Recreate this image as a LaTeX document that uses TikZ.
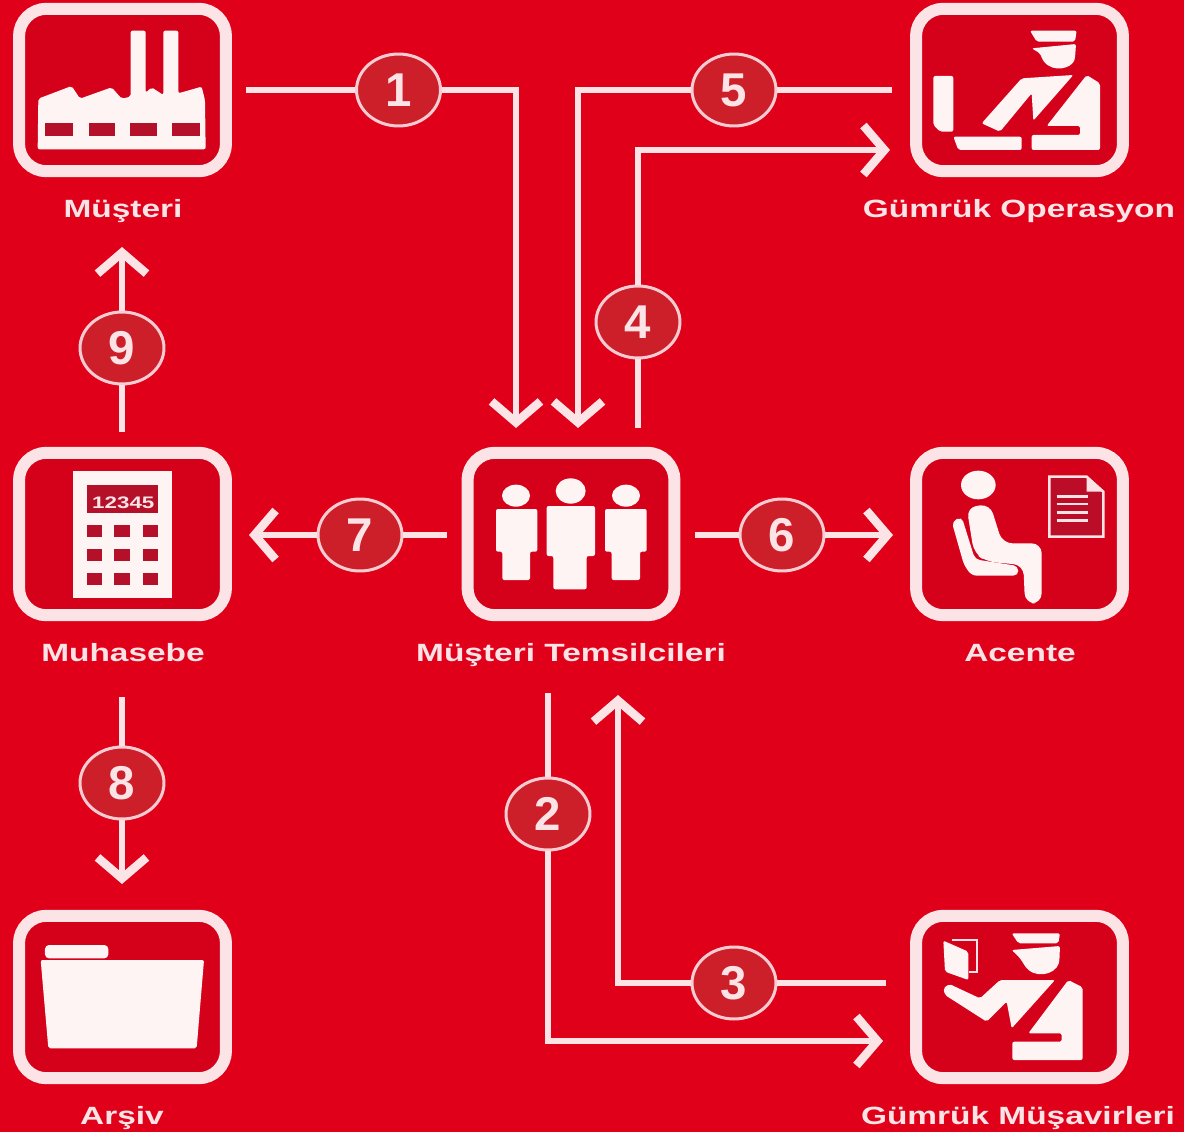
\documentclass[tikz,border=0pt]{standalone}
\usepackage{fontspec}
\usetikzlibrary{arrows.meta,shapes.geometric}
\newfontfamily\lblfont[FakeStretch=1.34]{Liberation Sans Bold}
\newfontfamily\numfont{Liberation Sans Bold}
\definecolor{bgred}{HTML}{E0001A}
\definecolor{inred}{HTML}{D5001A}
\definecolor{darkred}{HTML}{B5102A}
\definecolor{circred}{HTML}{CC1F2A}
\definecolor{wht}{HTML}{FCE3E6}
\definecolor{icn}{HTML}{FFF4F4}
\tikzset{
  x=0.02cm,y=-0.02cm,
  boxnode/.style={draw=wht,fill=inred,line width=0.24cm,rounded corners=0.55cm,minimum width=4.14cm,minimum height=3.25cm,inner sep=0,outer sep=0},
  lbl/.style={text=wht,font=\lblfont\fontsize{14.2}{16}\selectfont,inner sep=0,anchor=base},
  num/.style={ellipse,draw=wht!90!bgred,fill=circred,line width=0.06cm,minimum width=1.68cm,minimum height=1.44cm,inner sep=0,outer sep=0.03cm,text=wht,font=\numfont\fontsize{27}{30}\selectfont},
  wire/.style={draw=wht,line width=0.13cm},
  arr/.style={wire,-{Straight Barb[length=0.42cm,width=0.98cm,line width=0.17cm]}},
  ico/.style={fill=icn,draw=none,rounded corners=0.04cm},
  hole/.style={fill=darkred,draw=none},
  zoomed/.style={scale=0.33333}
}
\begin{document}
\begin{tikzpicture}
\useasboundingbox (0,0) rectangle (1184,1132);
\fill[bgred] (0,0) rectangle (1184,1132);

% boxes
\node[boxnode] (bMusteri) at (122.5,90) {};
\node[boxnode] (bOper) at (1019.5,90) {};
\node[boxnode] (bTemsil) at (571,534) {};
\node[boxnode] (bAcente) at (1019.5,534) {};
\node[boxnode] (bMuhasebe) at (122.5,534) {};
\node[boxnode] (bMusavir) at (1019.5,997) {};
\node[boxnode] (bArsiv) at (122.5,997) {};

% labels
\node[lbl] (lMusteri) at (123,217) {Müşteri};
\node[lbl] (lOper) at (1019,217) {Gümrük Operasyon};
\node[lbl] (lTemsil) at (571,661) {Müşteri Temsilcileri};
\node[lbl] (lMuhasebe) at (123,661) {Muhasebe};
\node[lbl] (lAcente) at (1020,661) {Acente};
\node[lbl] (lArsiv) at (122,1124) {Arşiv};
\node[lbl] (lMusavir) at (1018,1124) {Gümrük Müşavirleri};

% numbers
\node[num] (n1) at (398.5,90) {1};
\node[num] (n2) at (548,814) {2};
\node[num] (n3) at (734,983) {3};
\node[num] (n4) at (638,322) {4};
\node[num] (n5) at (734,90) {5};
\node[num] (n6) at (782,535) {6};
\node[num] (n7) at (360,535) {7};
\node[num] (n8) at (122,783) {8};
\node[num] (n9) at (122,348) {9};

% free connector ends
\coordinate (s1) at (246,90);   \coordinate (t1) at (516,428);
\coordinate (s5) at (892,90);   \coordinate (t5) at (578,428);
\coordinate (s4) at (638,428);  \coordinate (t4) at (890,150);
\coordinate (s6) at (695,535);  \coordinate (t6) at (893,535);
\coordinate (s7) at (447,535);  \coordinate (t7) at (249,535);
\coordinate (s9) at (122,432);  \coordinate (t9) at (122,247);
\coordinate (s8) at (122,697);  \coordinate (t8) at (122,884);
\coordinate (s2) at (548,693);  \coordinate (t2) at (883,1041);
\coordinate (s3) at (886,983);  \coordinate (t3) at (618,695);

% connectors
\draw[wire] (s1) -- (n1); \draw[arr] (n1) -| (t1);
\draw[wire] (s5) -- (n5); \draw[arr] (n5) -| (t5);
\draw[wire] (s4) -- (n4); \draw[arr] (n4) |- (t4);
\draw[wire] (s6) -- (n6); \draw[arr] (n6) -- (t6);
\draw[wire] (s7) -- (n7); \draw[arr] (n7) -- (t7);
\draw[wire] (s9) -- (n9); \draw[arr] (n9) -- (t9);
\draw[wire] (s8) -- (n8); \draw[arr] (n8) -- (t8);
\draw[wire] (s2) -- (n2); \draw[arr] (n2) |- (t2);
\draw[wire] (s3) -- (n3); \draw[arr] (n3) -| (t3);

% factory
\begin{scope}[zoomed]
\fill[ico] (113,448) -- (115,296) -- (215,258) -- (240,296) -- (335,262) -- (365,296) -- (392,290) -- (392,92) -- (437,92) -- (437,278) -- (455,262) -- (490,285) -- (490,92) -- (535,92) -- (535,280) -- (605,260) -- (615,300) -- (617,448) -- cycle;
\foreach \a/\b in {135/218,267/345,390/472,515/600}
  \fill[hole] (\a,368) rectangle (\b,408);
\end{scope}

% customs officer at desk
\begin{scope}[shift={(890,0)},zoomed]
\fill[ico] (420,92) -- (560,92) -- (555,125) -- (440,125) -- cycle;
\fill[ico] (425,145) -- (558,132) -- (555,175) .. controls (545,205) and (490,220) .. (458,180) -- (450,160) -- cycle;
\fill[ico] (130,228) -- (190,228) -- (190,395) -- (150,395) -- (130,375) -- cycle;
\fill[ico] (190,410) -- (395,410) -- (395,450) -- (205,450) -- cycle;
\fill[ico] (395,235) -- (550,225) -- (430,362) -- (425,280) -- (330,395) -- (275,370) -- cycle;
\fill[ico] (590,225) -- (630,250) -- (630,450) -- (425,450) -- (425,405) -- (570,405) -- (570,378) -- (470,378) -- cycle;
\end{scope}

% people
\begin{scope}[shift={(440,430)},zoomed]
\fill[icn] (228,197) ellipse [x radius=42,y radius=33];
\fill[icn] (392,183) ellipse [x radius=45,y radius=38];
\fill[icn] (558,197) ellipse [x radius=42,y radius=33];
\fill[ico] (168,237) -- (292,237) -- (292,365) -- (270,365) -- (270,450) -- (187,450) -- (187,365) -- (168,365) -- cycle;
\fill[ico] (320,228) -- (465,228) -- (465,378) -- (440,378) -- (440,478) -- (340,478) -- (340,378) -- (320,378) -- cycle;
\fill[ico] (495,237) -- (620,237) -- (620,365) -- (600,365) -- (600,450) -- (515,450) -- (515,365) -- (495,365) -- cycle;
\end{scope}

% seated agent with document
\begin{scope}[shift={(890,430)},zoomed]
\fill[icn] (265,165) ellipse [x radius=52,y radius=43];
\fill[ico,rounded corners=0.2cm] (230,232) -- (300,222) -- (337,340) -- (455,340) -- (455,520) -- (405,520) -- (400,405) -- (290,395) -- (252,370) -- cycle;
\fill[ico,rounded corners=0.1cm] (185,275) -- (215,260) -- (255,388) -- (385,408) -- (385,437) -- (245,437) -- (222,405) -- cycle;
\draw[wht,line width=0.05cm,fill=darkred!80!inred] (478,140) -- (590,140) -- (640,185) -- (640,320) -- (478,320) -- cycle;
\fill[wht] (590,140) -- (590,185) -- (640,185) -- cycle;
\foreach \y in {200,222,247,272}
  \draw[wht,line width=0.05cm] (500,\y) -- (595,\y);
\end{scope}

% calculator
\begin{scope}[shift={(0,430)},zoomed]
\fill[icn] (218,122) rectangle (515,505);
\fill[hole] (262,165) rectangle (475,248);
\node[text=wht,font=\lblfont\fontsize{9.5}{12}\selectfont,inner sep=0] (calc) at (370,219) {12345};
\foreach \a/\b in {262/305,342/390,430/475}
  \foreach \c/\d in {285/322,357/392,428/465}
    \fill[hole] (\a,\c) rectangle (\b,\d);
\end{scope}

% folder
\begin{scope}[shift={(0,900)},zoomed]
\fill[ico,rounded corners=0.08cm] (135,175) -- (135,135) -- (325,135) -- (325,175) -- cycle;
\fill[ico] (122,180) -- (612,180) -- (590,445) -- (145,445) -- cycle;
\end{scope}

% officer with book
\begin{scope}[shift={(890,900)},zoomed]
\draw[wht,line width=0.04cm] (185,120) -- (260,120) -- (260,215) -- (238,215);
\fill[ico] (160,122) -- (235,155) -- (235,240) -- (165,215) -- cycle;
\fill[ico] (365,100) -- (510,100) -- (505,130) -- (385,130) -- cycle;
\fill[ico] (365,150) -- (510,138) -- (508,185) .. controls (495,225) and (430,240) .. (400,190) -- (388,172) -- cycle;
\fill[ico] (178,252) -- (270,295) -- (330,240) -- (495,240) -- (365,385) -- (350,305) -- (290,365) -- (165,285) -- (160,265) -- cycle;
\fill[ico] (535,240) -- (578,262) -- (578,480) -- (367,480) -- (367,425) -- (515,425) -- (515,400) -- (415,400) -- cycle;
\end{scope}
\end{tikzpicture}
\end{document}
